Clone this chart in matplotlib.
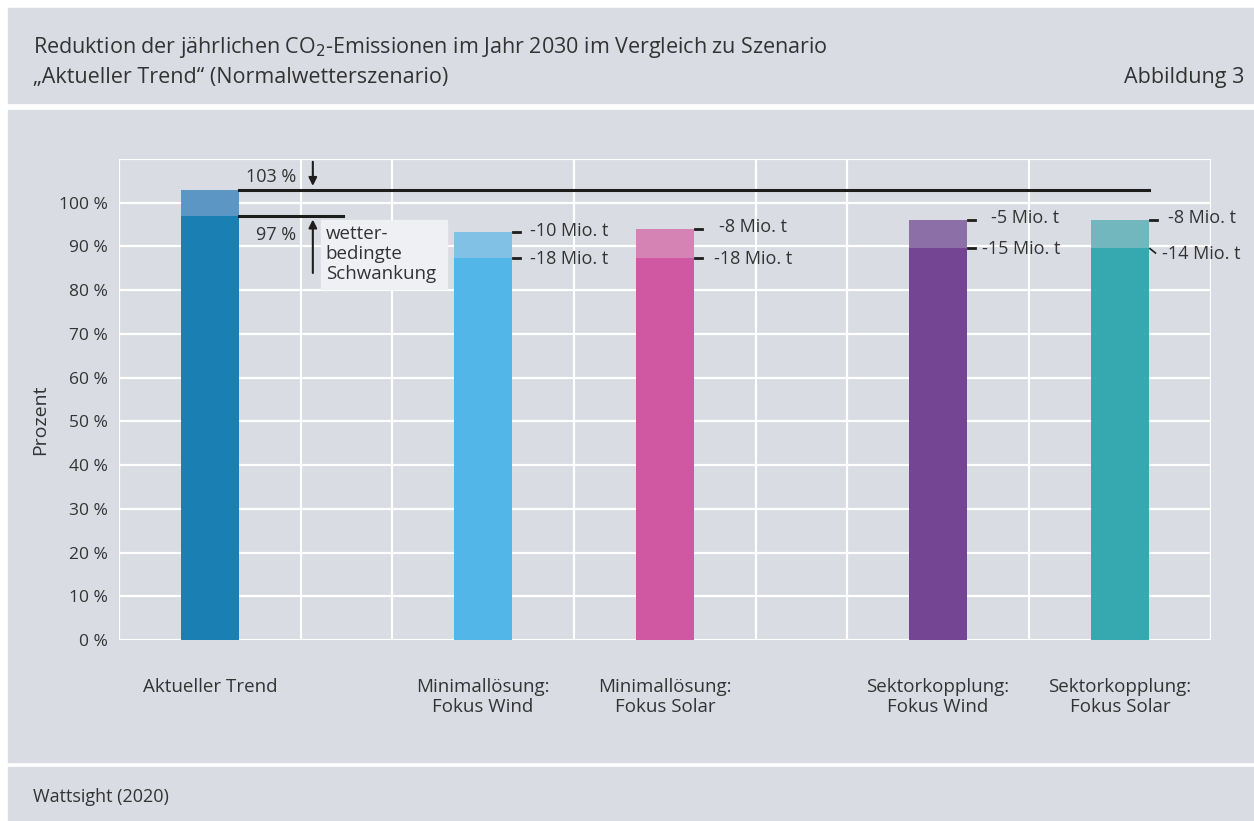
import matplotlib.pyplot as plt
from matplotlib.patches import Rectangle

plt.rcParams['font.family'] = ['Open Sans', 'DejaVu Sans']

# Daten
kategorien = ['Aktueller Trend', 'Minimallösung:\nFokus Wind', 'Minimallösung:\nFokus Solar',
              'Sektorkopplung:\nFokus Wind', 'Sektorkopplung:\nFokus Solar']
positionen = [0, 3, 5, 8, 10]
basis = [97, 87.4, 87.4, 89.7, 89.7]
gesamt = [103, 93.2, 94.1, 96.1, 96.1]
label_oben = ['', '-10 Mio. t', '-8 Mio. t', '-5 Mio. t', '-8 Mio. t']
label_unten = ['', '-18 Mio. t', '-18 Mio. t', '-15 Mio. t', '-14 Mio. t']
yticks = [0, 10, 20, 30, 40, 50, 60, 70, 80, 90, 100]

farben_dunkel = ['#1a80b4', '#52b7e8', '#d057a1', '#744593', '#36a9b0']
farben_hell = ['#5b96c4', '#82c1e6', '#d582b4', '#8c6fa6', '#72b6be']

bg = '#d9dce3'
txt = '#333333'

fig = plt.figure(figsize=(12.54, 8.21), dpi=100)
W, H = 1254, 821

# Panels
fig.patches.append(Rectangle((8 / W, 1 - 103 / H), 1, 95 / H, transform=fig.transFigure, color=bg, zorder=-5))
fig.patches.append(Rectangle((8 / W, 1 - 762 / H), 1, 652 / H, transform=fig.transFigure, color=bg, zorder=-5))
fig.patches.append(Rectangle((8 / W, 0), 1, 54 / H, transform=fig.transFigure, color=bg, zorder=-5))

fig.text(33 / W, 1 - 47 / H, 'Reduktion der jährlichen CO$_2$-Emissionen im Jahr 2030 im Vergleich zu Szenario',
         fontsize=15.5, color=txt, va='center')
fig.text(33 / W, 1 - 77 / H, '„Aktueller Trend“ (Normalwetterszenario)', fontsize=15.5, color=txt, va='center')
fig.text(1244 / W, 1 - 77 / H, 'Abbildung 3', fontsize=15.5, color=txt, va='center', ha='right')
fig.text(33 / W, 1 - 797 / H, 'Wattsight (2020)', fontsize=13, color=txt, va='center')

ax = fig.add_axes([119 / W, 1 - 640 / H, 1092 / W, 481 / H])
ax.set_facecolor(bg)
ax.set_xlim(-1, 11)
ax.set_ylim(0, 110)

for y in range(0, 111, 10):
    ax.axhline(y, color='white', lw=1.6, zorder=1)
for x in [-1, 1, 2, 4, 6, 7, 9, 11]:
    ax.axvline(x, color='white', lw=1.6, zorder=1)
for s in ax.spines.values():
    s.set_visible(False)

breite = 0.64
ax.bar(positionen, basis, width=breite, color=farben_dunkel, zorder=2)
ax.bar(positionen, [g - b for g, b in zip(gesamt, basis)], bottom=basis, width=breite,
       color=farben_hell, zorder=2)

# Beschriftungen Mio. t
dx_oben = [0, 0.2, 0.27, 0.26, 0.21]
dx_unten = [0, 0.2, 0.22, 0.16, 0.14]
for i in range(1, 5):
    rechts = positionen[i] + breite / 2
    ax.plot([rechts + 0.01, rechts + 0.09], [gesamt[i], gesamt[i]], color='#1d1d1b', lw=2, zorder=3)
    ax.text(rechts + dx_oben[i], gesamt[i] + 0.4, label_oben[i], fontsize=13, color=txt, va='center')
    if i == 4:
        ax.plot([rechts + 0.01, rechts + 0.07], [basis[i] - 0.2, basis[i] - 1.2], color='#1d1d1b', lw=1.2, zorder=3)
        ax.text(rechts + dx_unten[i], basis[i] - 1.4, label_unten[i], fontsize=13, color=txt, va='center')
    else:
        ax.plot([rechts + 0.01, rechts + 0.09], [basis[i], basis[i]], color='#1d1d1b', lw=2, zorder=3)
        ax.text(rechts + dx_unten[i], basis[i] - 0.2, label_unten[i], fontsize=13, color=txt, va='center')

# Wetterbedingte Schwankung
ax.plot([0.32, 10.32], [gesamt[0], gesamt[0]], color='#1d1d1b', lw=2.2, zorder=3)
ax.plot([0.32, 1.46], [basis[0], basis[0]], color='#1d1d1b', lw=2.2, zorder=3)
ax.annotate('', xy=(1.13, 103.2), xytext=(1.13, 110),
            arrowprops=dict(arrowstyle='-|>', color='#1d1d1b', lw=1.5, mutation_scale=12), zorder=3)
ax.annotate('', xy=(1.13, 96.8), xytext=(1.13, 83.3),
            arrowprops=dict(arrowstyle='-|>', color='#1d1d1b', lw=1.5, mutation_scale=12), zorder=3)
ax.text(0.95, 105.8, '103 %', fontsize=13, color=txt, ha='right', va='center')
ax.text(0.95, 92.6, '97 %', fontsize=13, color=txt, ha='right', va='center')
ax.add_patch(Rectangle((1.22, 80.2), 1.38, 15.9, color='#eef0f4', zorder=2))
ax.text(1.27, 88.3, 'wetter-\nbedingte\nSchwankung', fontsize=13.5, color=txt, va='center',
        linespacing=1.15, zorder=3)

ax.set_yticks(yticks)
ax.set_yticklabels([f'{v} %' for v in yticks], fontsize=12.5, color=txt)
ax.set_xticks(positionen)
ax.set_xticklabels(kategorien, fontsize=13.5, color=txt)
ax.tick_params(axis='both', length=0)
ax.tick_params(axis='y', pad=8)
ax.tick_params(axis='x', pad=27)

fig.text(40 / W, 1 - 420 / H, 'Prozent', fontsize=14, color=txt, rotation=90, va='center', ha='center')

fig.savefig('out.png', dpi=100)
